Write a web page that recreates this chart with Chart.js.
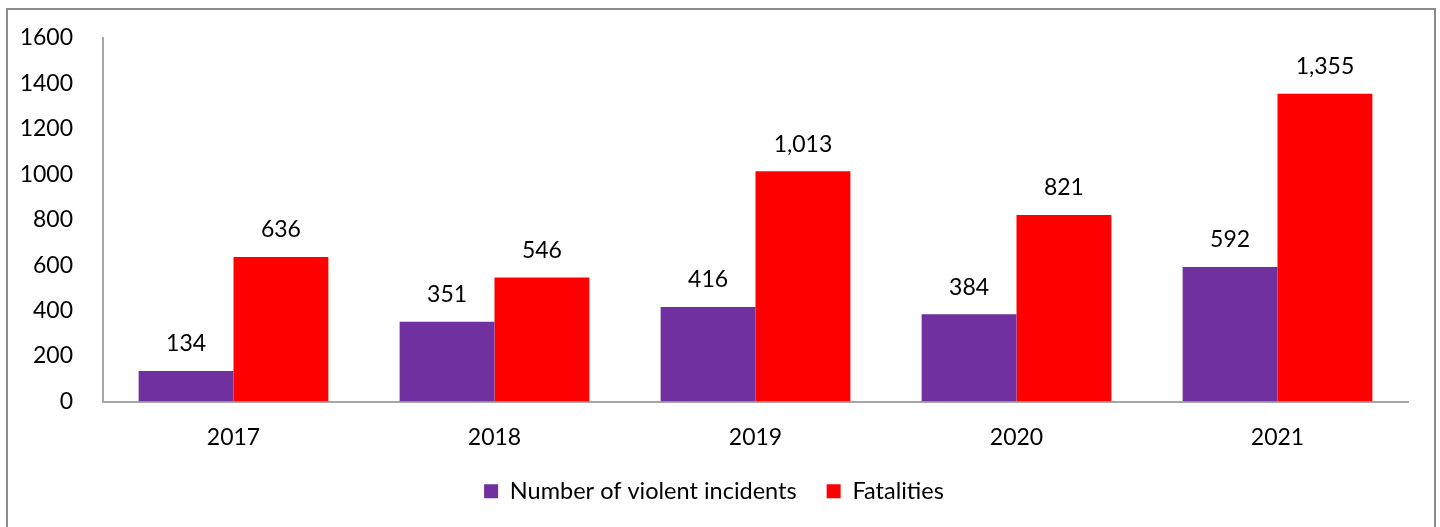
<!DOCTYPE html>
<html>
<head>
<meta charset="utf-8">
<script src="https://cdn.jsdelivr.net/npm/chart.js@4"></script>
<style>
  html, body { margin: 0; padding: 0; background: #fff; overflow: hidden; }
  #frame {
    position: absolute; left: 6px; top: 8px; width: 1430px; height: 600px;
    border: 2px solid #8c8c8c; box-sizing: border-box;
  }
  #wrap { position: absolute; left: 0; top: 0; width: 1440px; height: 527px; }
</style>
</head>
<body>
<div id="frame"></div>
<div id="wrap"><canvas id="chart" width="1440" height="527"></canvas></div>
<script>
const years = ['2017', '2018', '2019', '2020', '2021'];
const incidents = [134, 351, 416, 384, 592];
const fatalities = [636, 546, 1013, 821, 1355];
const yTicks = [0, 200, 400, 600, 800, 1000, 1200, 1400, 1600];

const FONT = 'Lato, "Open Sans", sans-serif';

// draw value labels above each bar
const valueLabels = {
  id: 'valueLabels',
  afterDatasetsDraw(chart) {
    const ctx = chart.ctx;
    ctx.save();
    ctx.font = '23px ' + FONT;
    ctx.fillStyle = '#000';
    ctx.textAlign = 'center';
    ctx.textBaseline = 'middle';
    chart.data.datasets.forEach((ds, i) => {
      chart.getDatasetMeta(i).data.forEach((bar, j) => {
        ctx.fillText(ds.data[j].toLocaleString('en-US'), bar.x, bar.y - 27);
      });
    });
    ctx.restore();
  },
};

new Chart(document.getElementById('chart'), {
  type: 'bar',
  data: {
    labels: years,
    datasets: [
      {
        label: 'Number of violent incidents',
        data: incidents,
        backgroundColor: '#7030A0',
        categoryPercentage: 0.727,
        barPercentage: 1,
      },
      {
        label: 'Fatalities',
        data: fatalities,
        backgroundColor: '#FF0000',
        categoryPercentage: 0.727,
        barPercentage: 1,
      },
    ],
  },
  options: {
    responsive: false,
    animation: false,
    layout: { padding: { left: 20, right: 32, top: 38, bottom: 14 } },
    scales: {
      x: {
        grid: { display: false, drawTicks: false },
        border: { color: '#a6a6a6', width: 2 },
        ticks: { color: '#000', font: { family: FONT, size: 23 }, padding: 22 },
        afterFit: (s) => { s.height = 48; },
      },
      y: {
        min: 0,
        max: 1600,
        afterBuildTicks: (s) => { s.ticks = yTicks.map((v) => ({ value: v })); },
        grid: { display: false, drawTicks: false },
        border: { color: '#a6a6a6', width: 2 },
        ticks: {
          color: '#000',
          font: { family: FONT, size: 23 },
          padding: 30,
          callback: (v) => String(v),
        },
        afterFit: (s) => { s.width = 83; s.paddingTop = 0; },
      },
    },
    plugins: {
      legend: {
        position: 'bottom',
        labels: {
          color: '#000',
          font: { family: FONT, size: 23.5 },
          boxWidth: 14,
          boxHeight: 14,
          padding: 30,
        },
      },
      tooltip: { enabled: false },
    },
  },
  plugins: [valueLabels],
});
</script>
</body>
</html>
